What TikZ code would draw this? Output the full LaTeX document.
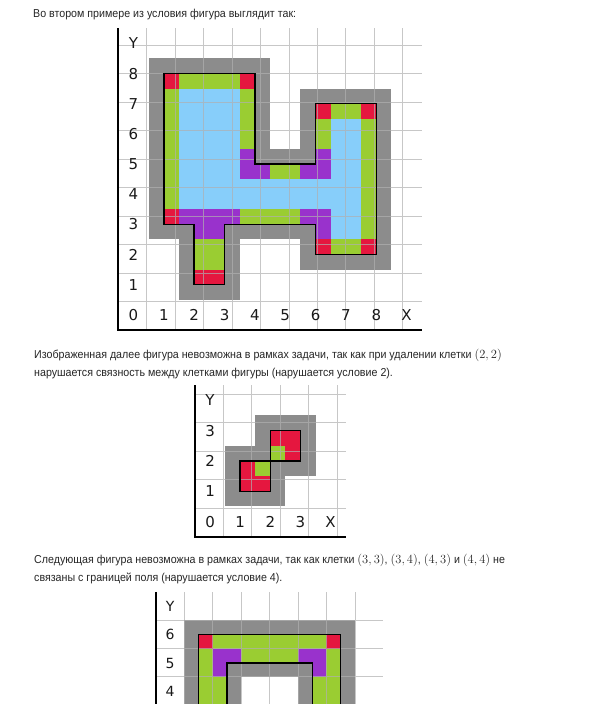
\documentclass[tikz,border=0pt]{standalone}
\usepackage{fontspec}
\setmainfont{Liberation Sans}[FakeStretch=0.927]
\newfontfamily\cellfont{DejaVu Sans}
\newfontfamily\pairfont{Latin Modern Roman}
\usepackage{xcolor}
\usetikzlibrary{positioning}
\definecolor{cellred}{HTML}{E5173F}
\definecolor{cellgreen}{HTML}{9ACD32}
\definecolor{cellblue}{HTML}{87CEFA}
\definecolor{cellviolet}{HTML}{9932CC}
\definecolor{cellgray}{HTML}{8C8C8C}
\definecolor{gridgray}{HTML}{B0B0B0}
% a cell number such as (2, 2)
\newcommand{\cellpair}[2]{{\pairfont\fontsize{12.5}{14}\selectfont(#1,\,#2)}}
\tikzset{
    %Define style for the text lines
    caption/.style={
        anchor=base west,
        inner sep=0pt,
        text=black!85,
        font=\fontsize{11.5}{14}\selectfont},
    %Define style for the numbers round the field
    fieldmark/.style={
        inner sep=0pt,
        text=black!90,
        font=\cellfont\fontsize{15}{15}\selectfont},
    % Define line styles
    gridline/.style={draw=gridgray, opacity=0.7, line width=0.9pt},
    border/.style={draw=black, line width=1.4pt, line join=miter},
    axis/.style={draw=black, line width=2pt}
}
% cells of the figures: x/y/colour
\def\figA{1/8/cellred,2/8/cellgreen,3/8/cellgreen,4/8/cellred,
  1/7/cellgreen,2/7/cellblue,3/7/cellblue,4/7/cellgreen,6/7/cellred,7/7/cellgreen,8/7/cellred,
  1/6/cellgreen,2/6/cellblue,3/6/cellblue,4/6/cellgreen,6/6/cellgreen,7/6/cellblue,8/6/cellgreen,
  1/5/cellgreen,2/5/cellblue,3/5/cellblue,4/5/cellviolet,5/5/cellgreen,6/5/cellviolet,7/5/cellblue,8/5/cellgreen,
  1/4/cellgreen,2/4/cellblue,3/4/cellblue,4/4/cellblue,5/4/cellblue,6/4/cellblue,7/4/cellblue,8/4/cellgreen,
  1/3/cellred,2/3/cellviolet,3/3/cellviolet,4/3/cellgreen,5/3/cellgreen,6/3/cellviolet,7/3/cellblue,8/3/cellgreen,
  2/2/cellgreen,3/2/cellgreen,6/2/cellred,7/2/cellgreen,8/2/cellred,
  2/1/cellred,3/1/cellred}
\def\figB{1/1/cellred,2/1/cellred,1/2/cellred,2/2/cellgreen,3/2/cellred,2/3/cellred,3/3/cellred}
\def\figC{1/6/cellred,2/6/cellgreen,3/6/cellgreen,4/6/cellgreen,5/6/cellgreen,6/6/cellred,
  1/5/cellgreen,2/5/cellviolet,3/5/cellgreen,4/5/cellgreen,5/5/cellviolet,6/5/cellgreen,
  1/4/cellgreen,2/4/cellgreen,5/4/cellgreen,6/4/cellgreen,
  1/3/cellgreen,2/3/cellgreen,5/3/cellgreen,6/3/cellgreen}
\begin{document}
\begin{tikzpicture}[x=1pt,y=1pt]
    \useasboundingbox (0,0) rectangle (592,704);
    \clip (0,0) rectangle (592,704);
    \fill[white] (0,0) rectangle (592,704);
    %text
    \node[caption] (intro) at (33,686.7) {Во втором примере из условия фигура выглядит так:};
    \node[caption] (bad2a) at (34,345) {Изображенная далее фигура невозможна в рамках задачи, так как при удалении клетки \cellpair{2}{2}};
    \node[caption] (bad2b) at (34,327) {нарушается связность между клетками фигуры (нарушается условие 2).};
    \node[caption] (bad4a) at (34,140) {Следующая фигура невозможна в рамках задачи, так как клетки \cellpair{3}{3}, \cellpair{3}{4}, \cellpair{4}{3} и \cellpair{4}{4} не};
    \node[caption] (bad4b) at (34,122) {связаны с границей поля (нарушается условие 4).};
    % first field
    \begin{scope}[shift={(118.3pt,374pt)},x=30.35pt,y=30.17pt]
        \foreach \x/\y/\c in \figA
            \fill[cellgray] (\x,\y) rectangle ++(1,1);
        \begin{scope}
            \clip (1.5,8.5) -- (4.5,8.5) -- (4.5,5.5) -- (6.5,5.5) -- (6.5,7.5) -- (8.5,7.5) -- (8.5,2.5)
                -- (6.5,2.5) -- (6.5,3.5) -- (3.5,3.5) -- (3.5,1.5) -- (2.5,1.5) -- (2.5,3.5) -- (1.5,3.5) -- cycle;
            \foreach \x/\y/\c in \figA
                \fill[\c] (\x,\y) rectangle ++(1,1);
        \end{scope}
        \draw[gridline] (0,0) grid (10,10);
        \draw[border] (1.5,8.5) -- (4.5,8.5) -- (4.5,5.5) -- (6.5,5.5) -- (6.5,7.5) -- (8.5,7.5) -- (8.5,2.5)
            -- (6.5,2.5) -- (6.5,3.5) -- (3.5,3.5) -- (3.5,1.5) -- (2.5,1.5) -- (2.5,3.5) -- (1.5,3.5) -- cycle;
        \draw[axis] (0,10) -- (0,0) -- (10,0);
        \foreach \i in {0,...,8}
            \node[fieldmark] (ax\i) at (\i+0.5,0.5) {\i};
        \foreach \i in {1,...,8}
            \node[fieldmark] (ay\i) at (0.5,\i+0.5) {\i};
        \node[fieldmark] (axX) at (9.5,0.5) {X};
        \node[fieldmark] (ayY) at (0.5,9.5) {Y};
    \end{scope}
    % second field
    \begin{scope}[shift={(195pt,167.3pt)},x=30.13pt,y=30.3pt]
        \foreach \x/\y/\c in \figB
            \fill[cellgray] (\x,\y) rectangle ++(1,1);
        \begin{scope}
            \clip (1.5,1.5) rectangle (2.5,2.5) (2.5,2.5) rectangle (3.5,3.5);
            \foreach \x/\y/\c in \figB
                \fill[\c] (\x,\y) rectangle ++(1,1);
        \end{scope}
        \draw[gridline] (0,0) grid (5,5);
        \draw[border] (1.5,1.5) rectangle (2.5,2.5) (2.5,2.5) rectangle (3.5,3.5);
        \draw[axis] (0,5) -- (0,0) -- (5,0);
        \foreach \i in {0,...,3}
            \node[fieldmark] (bx\i) at (\i+0.5,0.5) {\i};
        \foreach \i in {1,...,3}
            \node[fieldmark] (by\i) at (0.5,\i+0.5) {\i};
        \node[fieldmark] (bxX) at (4.5,0.5) {X};
        \node[fieldmark] (byY) at (0.5,4.5) {Y};
    \end{scope}
    % third field, cut by the page
    \begin{scope}[shift={(156pt,-115.2pt)},x=28.4pt,y=28.4pt,fieldmark/.append style={font=\cellfont\fontsize{14}{14}\selectfont}]
        \foreach \x/\y/\c in \figC
            \fill[cellgray] (\x,\y) rectangle ++(1,1);
        \begin{scope}[even odd rule]
            \clip (1.5,1.5) rectangle (6.5,6.5) (2.5,2.5) rectangle (5.5,5.5);
            \foreach \x/\y/\c in \figC
                \fill[\c] (\x,\y) rectangle ++(1,1);
        \end{scope}
        \draw[gridline] (0,0) grid (8,8);
        \draw[border] (1.5,1.5) rectangle (6.5,6.5) (2.5,2.5) rectangle (5.5,5.5);
        \draw[axis] (0,8) -- (0,0);
        \foreach \i in {4,...,6}
            \node[fieldmark] (cy\i) at (0.5,\i+0.5) {\i};
        \node[fieldmark] (cyY) at (0.5,7.5) {Y};
    \end{scope}
\end{tikzpicture}
\end{document}
